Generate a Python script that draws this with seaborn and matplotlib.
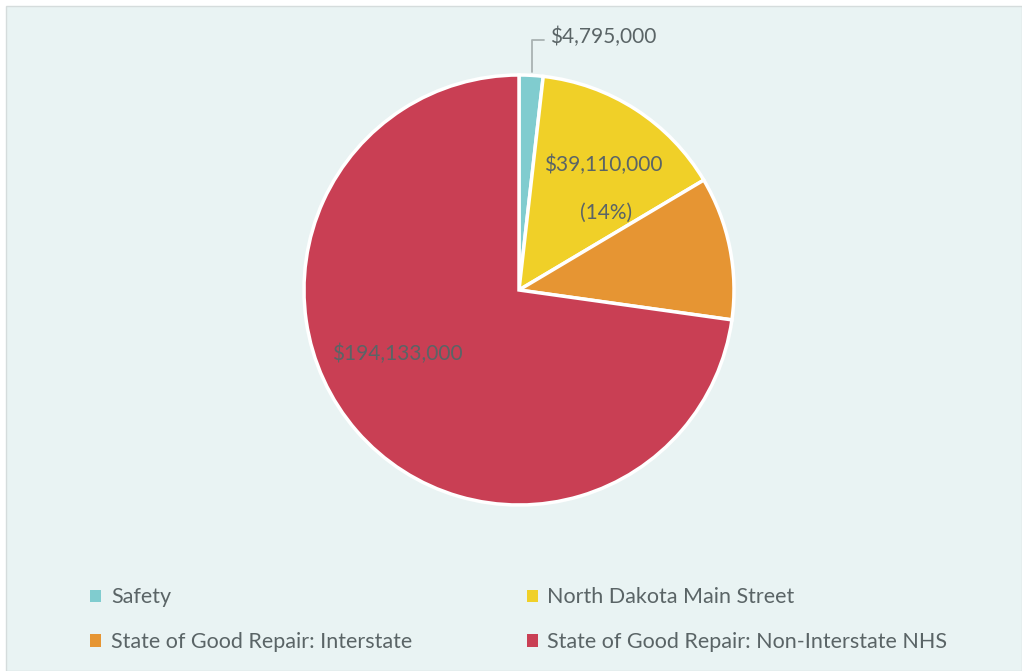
import matplotlib
matplotlib.use("Agg")
import matplotlib.pyplot as plt
from matplotlib.patches import Rectangle, Patch
import seaborn as sns

categories = ["Safety", "North Dakota Main Street",
              "State of Good Repair: Interstate",
              "State of Good Repair: Non-Interstate NHS"]
values = [4795000, 39110000, 28700000, 194133000]
colors = ["#80CCCF", "#F0D028", "#E69533", "#C93F54"]

sns.set_theme(style="white")
plt.rcParams['font.family'] = ['Lato', 'DejaVu Sans']
txt = "#5A6466"

W, H = 1022, 671
fig = plt.figure(figsize=(W / 100, H / 100), dpi=100, facecolor="white")
fig.patches.append(Rectangle((6 / W, 0), 1 - 6 / W, 1 - 6 / H, transform=fig.transFigure,
                             facecolor="#E9F3F3", edgecolor="#D5DCDC", linewidth=1, zorder=-10))

cx, cy, r = 519, 290, 215
ax = fig.add_axes([(cx - r) / W, (H - cy - r) / H, 2 * r / W, 2 * r / H])
ax.set_zorder(5)
ax.set_facecolor("none")
wedges, _ = ax.pie(values, colors=colors, startangle=90, counterclock=False, radius=1,
                   wedgeprops=dict(edgecolor="white", linewidth=2.5))
ax.set_xlim(-1, 1)
ax.set_ylim(-1, 1)
ax.axis("off")

def px(x, y):
    return ((x - cx) / r, (cy - y) / r)

# Safety label with leader line
p1, p2, p3 = px(532, 72), px(532, 40), px(544, 40)
ax.plot([p1[0], p2[0], p3[0]], [p1[1], p2[1], p3[1]], color="#A9B2B2", lw=1.3, clip_on=False)
fs = 15
ax.text(*px(550, 37), "$4,795,000", color=txt, fontsize=fs, ha="left", va="center")
ax.text(*px(603, 165), "$39,110,000", color=txt, fontsize=fs, ha="center", va="center")
ax.text(*px(606, 213), "(14%)", color=txt, fontsize=fs, ha="center", va="center")
ax.text(*px(397, 354), "$194,133,000", color=txt, fontsize=fs, ha="center", va="center")

order = [0, 2, 1, 3]
handles = [Patch(facecolor=colors[i], edgecolor="none") for i in order]
labels = [categories[i] for i in order]
leg = fig.legend(handles, labels, ncol=2, loc="upper left", bbox_to_anchor=(71 / W, 1 - 568 / H),
                 frameon=False, fontsize=15.5, handlelength=0.5, handleheight=0.5,
                 handletextpad=0.45, columnspacing=5.33, labelspacing=1.15, labelcolor=txt)

fig.savefig("out.png", dpi=100, facecolor="white")
